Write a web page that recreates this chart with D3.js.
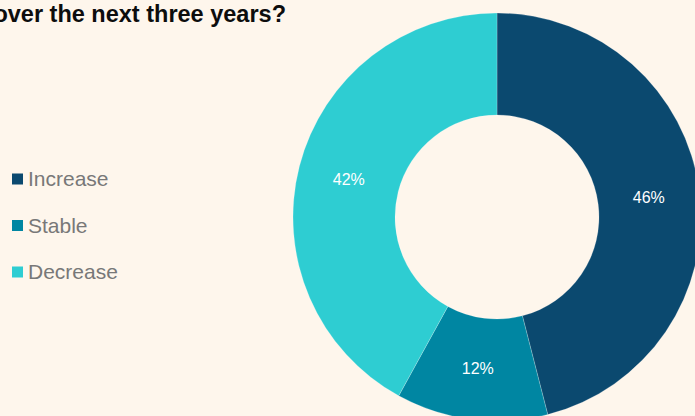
<!DOCTYPE html>
<html>
<head>
<meta charset="utf-8">
<script src="https://cdn.jsdelivr.net/npm/d3@7"></script>
<style>
  html, body { margin: 0; padding: 0; background: #fef6ec; }
  svg { display: block; }
</style>
</head>
<body>
<svg id="chart" width="695" height="416"></svg>
<script>
// Survey answers: expected change over the next three years (percent of respondents)
const categories = ["Increase", "Stable", "Decrease"];
const shares = [46, 12, 42];
const colors = ["#0b496f", "#0086a2", "#2ecdd2"];
const titleText = "over the next three years?";

const width = 695, height = 416;
const cx = 497, cy = 217;
const outerR = 204, innerR = 102;

const svg = d3.select("#chart");

svg.append("rect")
  .attr("width", width).attr("height", height)
  .attr("fill", "#fef6ec");

// Title (runs off the left edge)
svg.append("text")
  .attr("x", 286).attr("y", 22)
  .attr("text-anchor", "end")
  .attr("font-family", "'Liberation Sans', Arial, sans-serif")
  .attr("font-weight", "bold")
  .attr("font-size", 23.5)
  .attr("fill", "#0d0d0d")
  .text(titleText);

const color = d3.scaleOrdinal().domain(categories).range(colors);

const data = categories.map((c, i) => ({ category: c, value: shares[i] }));

const pie = d3.pie().value(d => d.value).sort(null);
const arc = d3.arc().innerRadius(innerR).outerRadius(outerR);
const labelArc = d3.arc().innerRadius((innerR + outerR) / 2).outerRadius((innerR + outerR) / 2);

const g = svg.append("g").attr("transform", `translate(${cx},${cy})`);
const arcs = pie(data);

g.selectAll("path.slice")
  .data(arcs)
  .join("path")
  .attr("class", "slice")
  .attr("d", arc)
  .attr("fill", d => color(d.data.category))
  .attr("stroke", "rgba(255,255,255,0.35)")
  .attr("stroke-width", 0.6);

g.selectAll("text.pct")
  .data(arcs)
  .join("text")
  .attr("class", "pct")
  .attr("transform", d => `translate(${labelArc.centroid(d)})`)
  .attr("text-anchor", "middle")
  .attr("dy", "0.35em")
  .attr("font-family", "'Liberation Sans', Arial, sans-serif")
  .attr("font-size", 16)
  .attr("fill", "#ffffff")
  .text(d => d.data.value + "%");

// Legend
const legendY = d3.scalePoint().domain(categories).range([179, 272]);
const legend = svg.append("g");
const item = legend.selectAll("g.item")
  .data(categories)
  .join("g")
  .attr("class", "item")
  .attr("transform", d => `translate(12,${legendY(d)})`);

item.append("rect")
  .attr("x", 0).attr("y", -5.5)
  .attr("width", 11).attr("height", 11)
  .attr("fill", d => color(d));

item.append("text")
  .attr("x", 16).attr("y", 0)
  .attr("dy", "0.35em")
  .attr("font-family", "'Liberation Sans', Arial, sans-serif")
  .attr("font-size", 21)
  .attr("fill", "#787878")
  .text(d => d);
</script>
</body>
</html>
